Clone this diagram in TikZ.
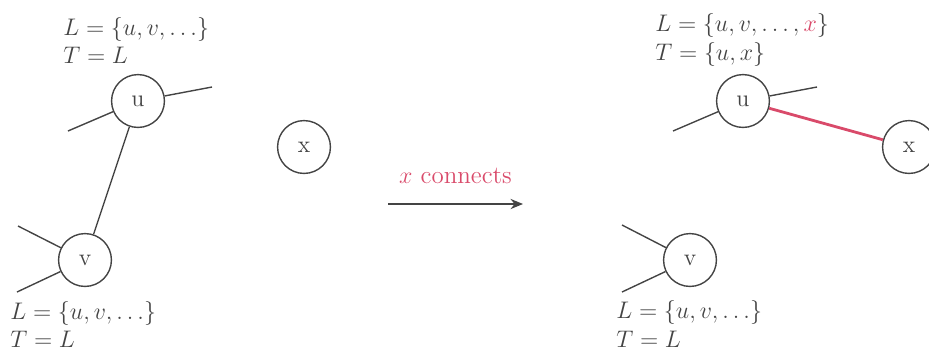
\documentclass[tikz,border=0pt]{standalone}
\definecolor{graphgray}{HTML}{444444}
\definecolor{linkred}{HTML}{D94A6A}
\usetikzlibrary{arrows.meta}
\tikzset{
    vertex/.style={
        draw=graphgray,
        circle,
        line width=0.7pt,
        minimum size=0.93cm,
        inner sep=0pt,
        text=graphgray,
        font=\large
    },
    edge/.style={
        draw=graphgray,
        line width=0.7pt
    },
    newedge/.style={
        draw=linkred,
        line width=1.4pt
    },
    setlabel/.style={
        anchor=base west,
        inner sep=0pt,
        text=graphgray,
        font=\fontsize{12.5}{15}\selectfont
    },
    steparrow/.style={
        -{Stealth[length=2.2mm,width=1.8mm]},
        draw=graphgray,
        line width=0.7pt
    }
}

\begin{document}
\begin{tikzpicture}[x=0.0176cm,y=-0.0176cm]
    \useasboundingbox (0,0) rectangle (929,351);

    % before
    \node[vertex] (lu) at (138,101) {u};
    \node[vertex] (lv) at (85,260) {v};
    \node[vertex] (lx) at (304,147) {x};

    \node[setlabel] (lutop) at (63,35) {$L = \{u, v, \dots\}$};
    \node[setlabel] (lubot) at (63,63) {$T = L$};
    \node[setlabel] (lvtop) at (10,319) {$L = \{u, v, \dots\}$};
    \node[setlabel] (lvbot) at (10,347) {$T = L$};

    \coordinate (lua) at (68,131);
    \coordinate (lub) at (212,87);
    \coordinate (lva) at (18,226);
    \coordinate (lvb) at (17,292);

    \draw[edge] (lu) -- (lua);
    \draw[edge] (lu) -- (lub);
    \draw[edge] (lu) -- (lv);
    \draw[edge] (lv) -- (lva);
    \draw[edge] (lv) -- (lvb);

    % step
    \coordinate (stepfrom) at (388,204);
    \coordinate (stepto) at (523,204);
    \draw[steparrow] (stepfrom) -- (stepto)
        node[midway,above=0.22cm,text=linkred,
             font=\fontsize{12.5}{15}\selectfont] (steplabel) {$x$ connects};

    % after
    \node[vertex] (ru) at (743,101) {u};
    \node[vertex] (rv) at (690,260) {v};
    \node[vertex] (rx) at (909,147) {x};

    \node[setlabel] (rutop) at (655,31)
        {$L = \{u, v, \dots, {\color{linkred}x}\}$};
    \node[setlabel] (rubot) at (655,60) {$T = \{u, x\}$};
    \node[setlabel] (rvtop) at (616,318) {$L = \{u, v, \dots\}$};
    \node[setlabel] (rvbot) at (616,347) {$T = L$};

    \coordinate (rua) at (673,131);
    \coordinate (rub) at (817,87);
    \coordinate (rva) at (622,225);
    \coordinate (rvb) at (622,292);

    \draw[edge] (ru) -- (rua);
    \draw[edge] (ru) -- (rub);
    \draw[newedge] (ru) -- (rx);
    \draw[edge] (rv) -- (rva);
    \draw[edge] (rv) -- (rvb);
\end{tikzpicture}
\end{document}
